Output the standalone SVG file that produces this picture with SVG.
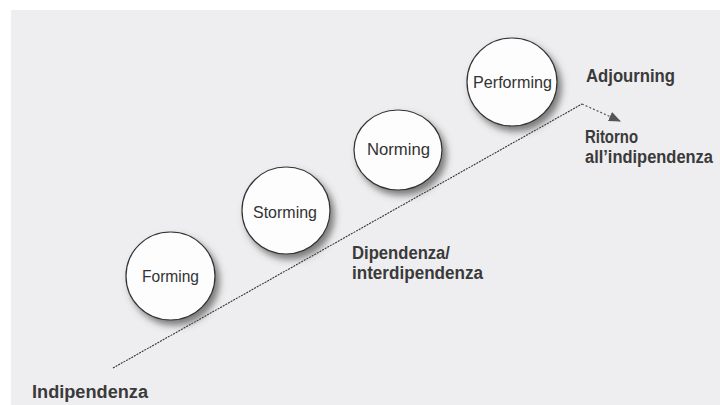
<svg xmlns="http://www.w3.org/2000/svg" width="720" height="405" viewBox="0 0 720 405">
  <defs>
    <filter id="shadow" x="-30%" y="-30%" width="170%" height="170%">
      <feGaussianBlur in="SourceAlpha" stdDeviation="3.5" result="b"/>
      <feOffset in="b" dx="4" dy="5" result="o"/>
      <feFlood flood-color="#555" flood-opacity="0.75"/>
      <feComposite in2="o" operator="in" result="s"/>
      <feMerge><feMergeNode in="s"/><feMergeNode in="SourceGraphic"/></feMerge>
    </filter>
    <marker id="arrow" viewBox="0 0 12 10" refX="11" refY="5" markerWidth="12" markerHeight="10" markerUnits="userSpaceOnUse" orient="auto">
      <path d="M0,0 L12,5 L0,10 z" fill="#555"/>
    </marker>
    <style>
      .node ellipse { fill: #fdfdfd; stroke: #333; stroke-width: 1.2; filter: url(#shadow); }
      .node text { font-family: "Liberation Sans", Arial, sans-serif; font-size: 16.5px; fill: #333; text-anchor: middle; }
      .lbl { font-family: "Liberation Sans", Arial, sans-serif; font-size: 17.5px; font-weight: bold; fill: #3a3a3a; }
      .line { fill: none; stroke: #333; stroke-width: 1.1; stroke-dasharray: 2 1; }
      .dot { fill: none; stroke: #555; stroke-width: 1.2; stroke-dasharray: 2 2; }
    </style>
  </defs>
  <rect width="720" height="405" fill="#ffffff"/>
  <rect x="11" y="10" width="709" height="395" fill="#eeeef0"/>

  <g id="connectors">
    <path class="line" d="M113,368 L582,104"/>
    <path class="dot" d="M582,104 L620,121" marker-end="url(#arrow)"/>
  </g>

  <g id="forming" class="node">
    <ellipse cx="170.5" cy="276" rx="44.5" ry="44"/>
    <text x="170.5" y="282" textLength="57" lengthAdjust="spacingAndGlyphs">Forming</text>
  </g>
  <g id="storming" class="node">
    <ellipse cx="286" cy="210.5" rx="44" ry="43.5"/>
    <text x="285" y="218" textLength="64" lengthAdjust="spacingAndGlyphs">Storming</text>
  </g>
  <g id="norming" class="node">
    <ellipse cx="398" cy="150" rx="44" ry="40"/>
    <text x="398.5" y="155" textLength="63" lengthAdjust="spacingAndGlyphs">Norming</text>
  </g>
  <g id="performing" class="node">
    <ellipse cx="512" cy="82" rx="45" ry="44"/>
    <text x="512.5" y="88" textLength="79" lengthAdjust="spacingAndGlyphs">Performing</text>
  </g>

  <g id="labels">
    <text class="lbl" x="32" y="398" textLength="116" lengthAdjust="spacingAndGlyphs">Indipendenza</text>
    <text class="lbl" x="352" y="259" textLength="98" lengthAdjust="spacingAndGlyphs">Dipendenza/</text>
    <text class="lbl" x="352" y="279" textLength="131" lengthAdjust="spacingAndGlyphs">interdipendenza</text>
    <text class="lbl" x="586" y="82" textLength="89" lengthAdjust="spacingAndGlyphs">Adjourning</text>
    <text class="lbl" x="585" y="143" textLength="53" lengthAdjust="spacingAndGlyphs">Ritorno</text>
    <text class="lbl" x="585" y="163" textLength="128" lengthAdjust="spacingAndGlyphs">all’indipendenza</text>
  </g>
</svg>
